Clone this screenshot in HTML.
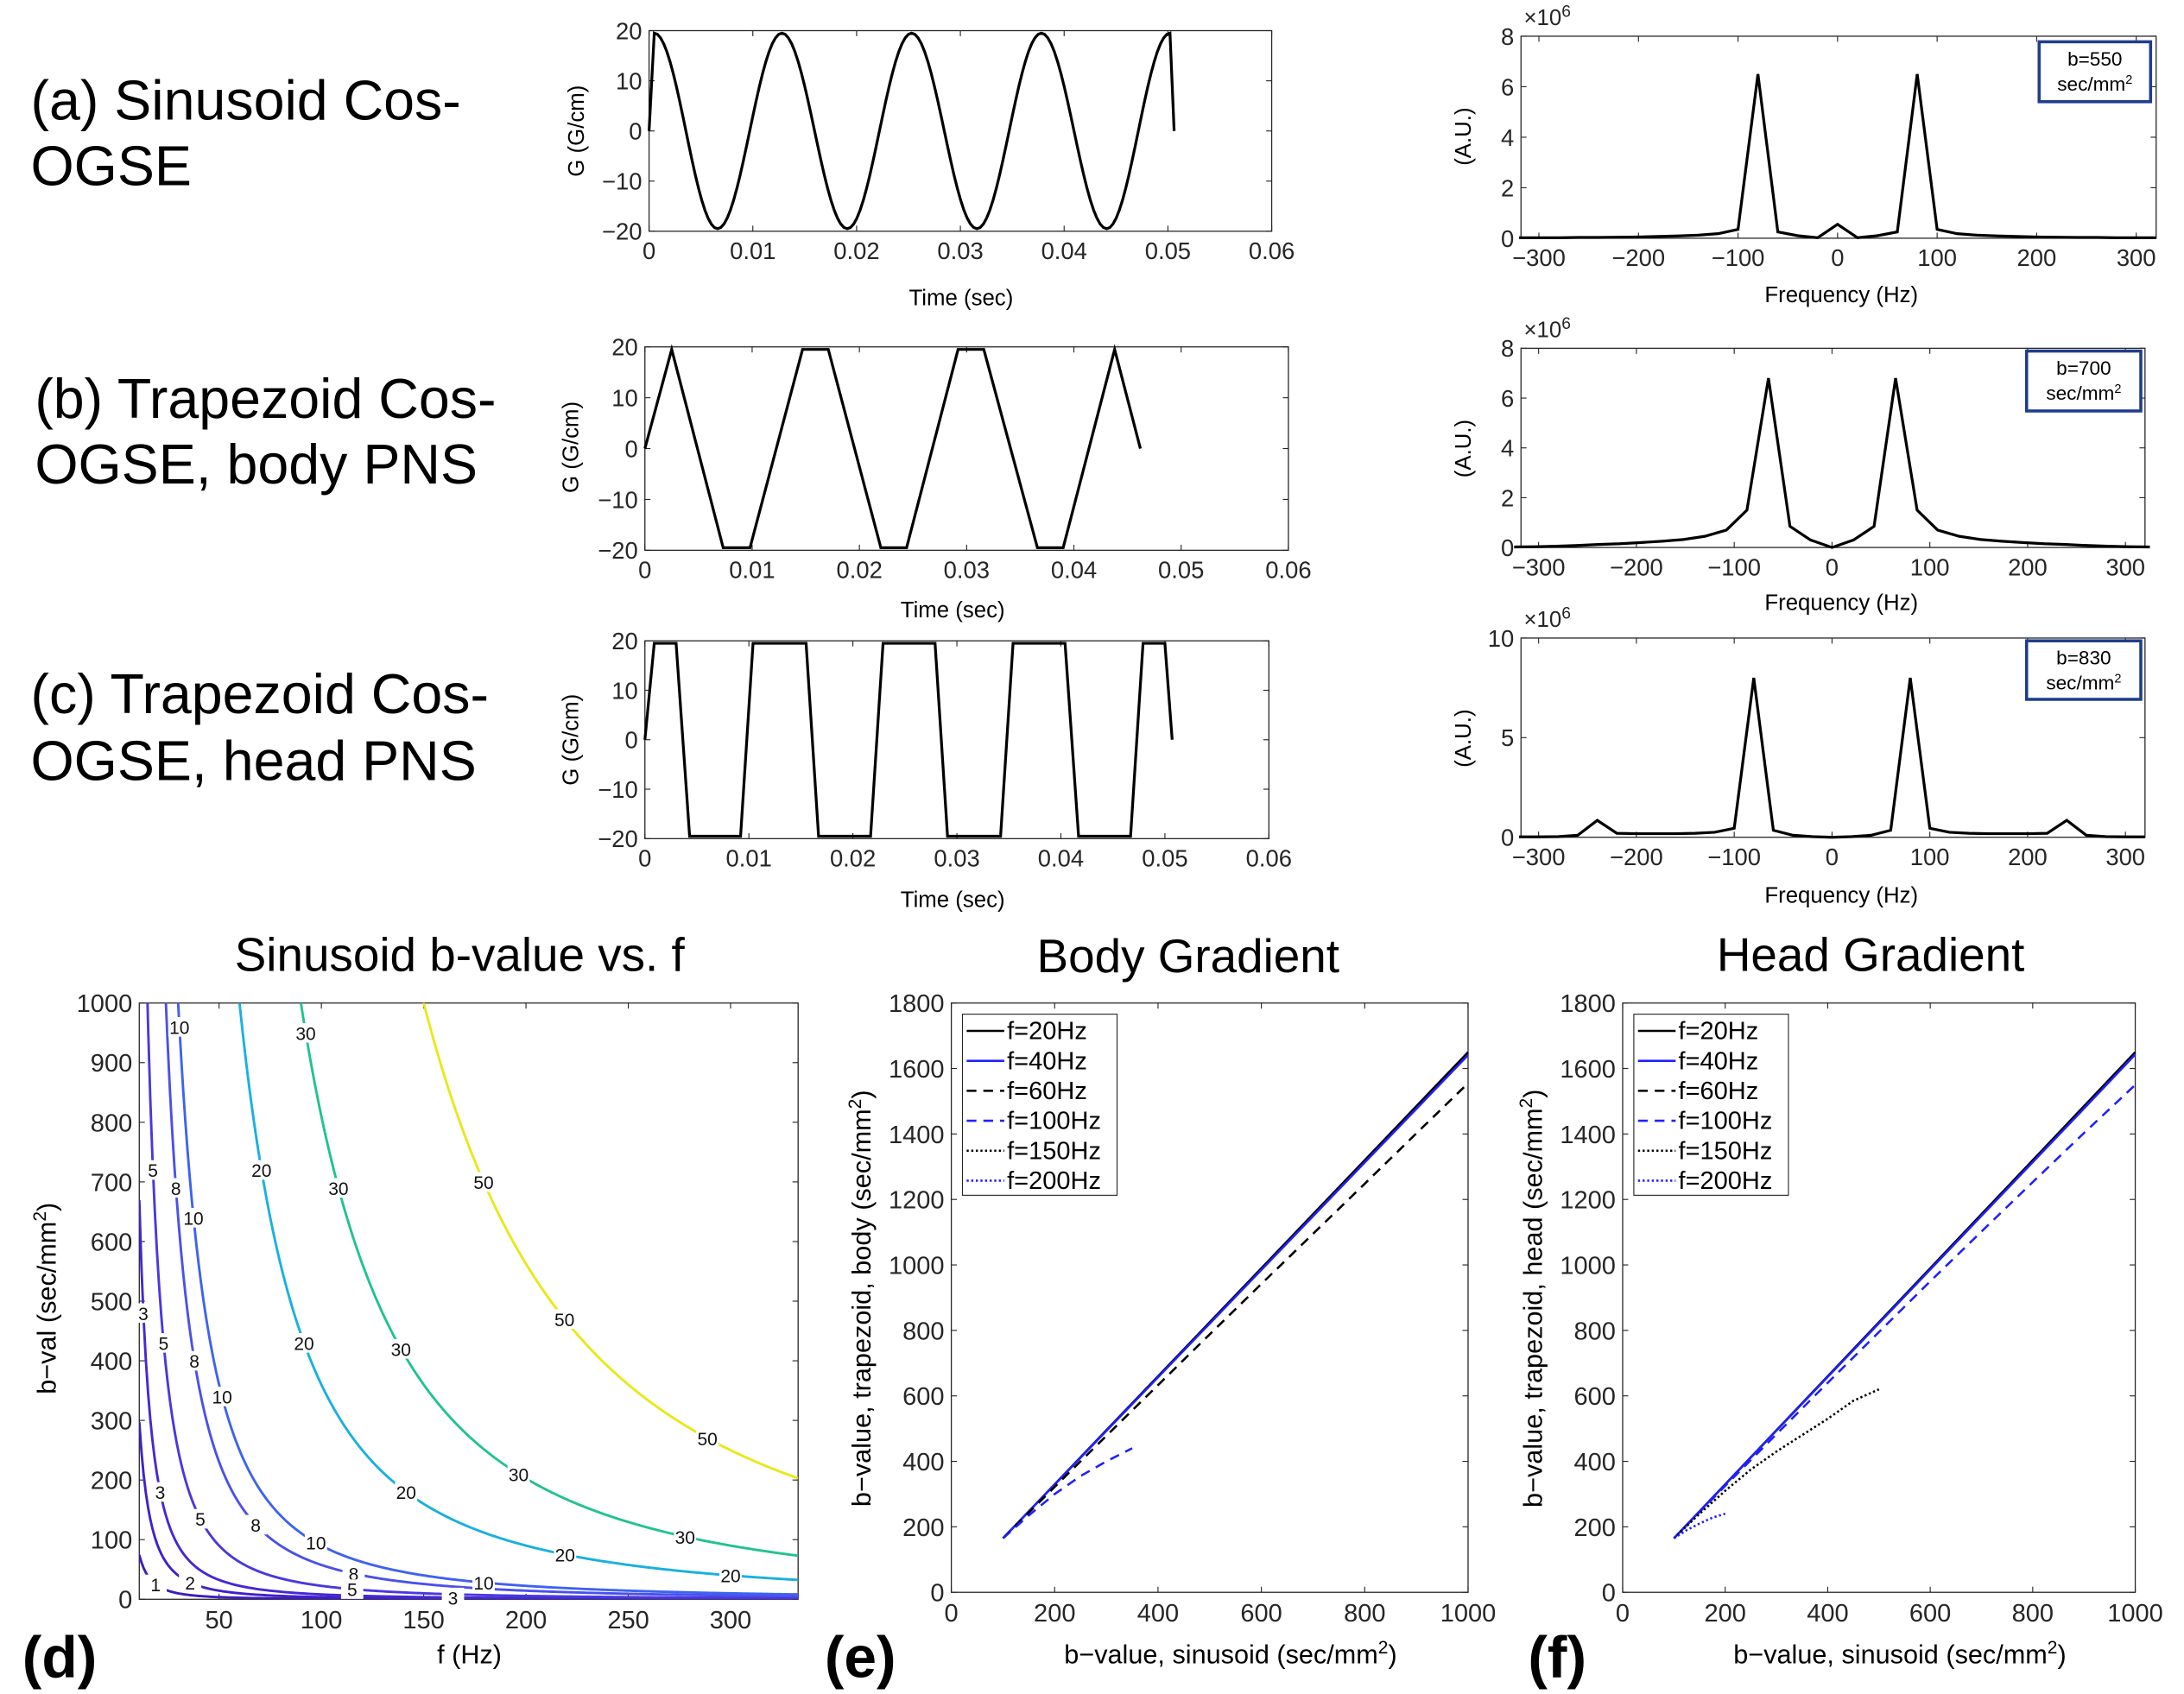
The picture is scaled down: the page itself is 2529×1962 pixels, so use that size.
<!DOCTYPE html>
<html><head><meta charset="utf-8">
<style>
html,body{margin:0;padding:0;background:#fff;}
svg{display:block;font-family:"Liberation Sans",sans-serif;}
</style></head>
<body>
<svg id="fig" width="2529" height="1962" viewBox="0 0 1568 1216" preserveAspectRatio="none" xmlns="http://www.w3.org/2000/svg">
<rect width="1568" height="1216" fill="#fff"/>
<g font-size="40" fill="#000">
<text x="22" y="86">(a) Sinusoid Cos-</text>
<text x="22" y="133">OGSE</text>
<text x="25" y="300">(b) Trapezoid Cos-</text>
<text x="25" y="347">OGSE, body PNS</text>
<text x="22" y="512">(c) Trapezoid Cos-</text>
<text x="22" y="560">OGSE, head PNS</text>
</g>
<g font-size="42" font-weight="bold">
<text x="16" y="1204">(d)</text>
<text x="592" y="1204">(e)</text>
<text x="1097" y="1204">(f)</text>
</g>
<g font-size="34" text-anchor="middle">
<text x="330" y="697">Sinusoid b-value vs. f</text>
<text x="853" y="698">Body Gradient</text>
<text x="1343" y="697">Head Gradient</text>
</g>
<g id="plots"></g>
</svg>
<script>
// ---------- data ----------
const sinExtT = [0.0005,0.0066,0.0128,0.0191,0.0253,0.0316,0.0378,0.0441,0.0502];
const sinExtG = [19.5,-19.5,19.5,-19.5,19.5,-19.5,19.5,-19.5,19.5];
const sinEnd = [0.0506, 0];
const trapBT = [0,0.0025,0.0073,0.0098,0.0147,0.0171,0.0220,0.0244,0.0292,0.0316,0.0366,0.0390,0.0438,0.0462];
const trapBG = [0,19.5,-19.5,-19.5,19.5,19.5,-19.5,-19.5,19.5,19.5,-19.5,-19.5,19.5,0];
const trapCT = [0,0.0009,0.0030,0.0043,0.0092,0.0104,0.0155,0.0167,0.0217,0.0229,0.0279,0.0291,0.0342,0.0354,0.0404,0.0417,0.0467,0.0479,0.0500,0.0507];
const trapCG = [0,19.5,19.5,-19.5,-19.5,19.5,19.5,-19.5,-19.5,19.5,19.5,-19.5,-19.5,19.5,19.5,-19.5,-19.5,19.5,19.5,0];

const fftAF = [-320,-300,-280,-260,-240,-220,-200,-180,-160,-140,-120,-100,-80,-60,-40,-20,0,20,40,60,80,100,120,140,160,180,200,220,240,260,280,300,320];
const fftAV = [0.02,0.02,0.02,0.03,0.03,0.04,0.05,0.07,0.09,0.12,0.18,0.35,6.5,0.25,0.1,0.02,0.55,0.02,0.1,0.25,6.5,0.35,0.18,0.12,0.09,0.07,0.05,0.04,0.03,0.03,0.02,0.02,0.02];
const fftBF = [-325,-304,-282,-260,-239,-217,-195,-174,-152,-130,-108,-87,-65,-43,-22,0,22,43,65,87,108,130,152,174,195,217,239,260,282,304,325];
const fftBV = [0.02,0.03,0.05,0.08,0.12,0.15,0.2,0.25,0.32,0.45,0.7,1.5,6.8,0.85,0.3,0,0.3,0.85,6.8,1.5,0.7,0.45,0.32,0.25,0.2,0.15,0.12,0.08,0.05,0.03,0.02];
const fftCF = [-320,-300,-280,-260,-240,-220,-200,-180,-160,-140,-120,-100,-80,-60,-40,-20,0,20,40,60,80,100,120,140,160,180,200,220,240,260,280,300,320];
const fftCV = [0.02,0.02,0.03,0.1,0.85,0.2,0.18,0.18,0.18,0.2,0.25,0.45,8.0,0.35,0.1,0.03,0,0.03,0.1,0.35,8.0,0.45,0.25,0.2,0.18,0.18,0.18,0.2,0.85,0.1,0.03,0.02,0.02];

const contourLevels = [1,2,3,5,8,10,20,30,50];
const contourConst = 9000; // b * f^2 / level^2
const contourLabelLevel = [50,50,50,30,30,30,30,30,20,20,20,20,20,10,10,10,10,10,8,8,8,8,5,5,5,5,3,3,3,2,2,1];
const contourLabelB = [700,470,270,950,690,420,210,105,720,430,180,75,40,960,640,340,95,28,690,400,125,43,720,430,135,17,480,180,3,300,28,25];

const gradX = [100,200,300,400,500,600,700,800,900,1000];
const bodyF20 = [165,330,495,660,825,990,1155,1320,1485,1650];
const bodyF40 = [165,329,493,657,821,985,1149,1313,1477,1641];
const bodyF60 = [165,322,478,633,788,942,1095,1248,1402,1555];
const bodyF100X = [100,150,200,250,300,350];
const bodyF100 = [165,235,300,355,400,440];
const headF20 = [165,330,495,660,825,990,1155,1320,1485,1650];
const headF40 = [165,329,494,658,822,986,1150,1314,1478,1643];
const headF100 = [165,325,483,640,795,950,1102,1253,1403,1550];
const headF150X = [100,150,200,250,300,350,400,450,500];
const headF150 = [165,240,310,375,430,480,530,585,620];
const headF200X = [100,125,150,175,200];
const headF200 = [165,190,210,228,240];

// ---------- helpers ----------
const NS='http://www.w3.org/2000/svg';
const root=document.getElementById('plots');
function el(tag,attrs,parent){const e=document.createElementNS(NS,tag);for(const k in attrs)e.setAttribute(k,attrs[k]);(parent||root).appendChild(e);return e;}
function lin(d0,d1,r0,r1){return v=>r0+(v-d0)*(r1-r0)/(d1-d0);}
function fmt(v){return (v<0?'\u2212':'')+Math.abs(v);}

function axes(o){
  const g=el('g',{});
  
  
  const X=lin(o.xd[0],o.xd[1],o.x0,o.x1), Y=lin(o.yd[0],o.yd[1],o.y1,o.y0);
  el('rect',{x:o.x0,y:o.y0,width:o.x1-o.x0,height:o.y1-o.y0,fill:'#fff',stroke:'#262626','stroke-width':0.8},g);
  const fs=o.fs||16;
  o.xt.forEach((v,i)=>{const x=X(v);
    el('line',{x1:x,x2:x,y1:o.y1,y2:o.y1-4,stroke:'#262626','stroke-width':0.7},g);
    el('line',{x1:x,x2:x,y1:o.y0,y2:o.y0+4,stroke:'#262626','stroke-width':0.7},g);
    const t=el('text',{x:x,y:o.y1+fs+3,'font-size':fs,'text-anchor':'middle',fill:'#262626'},g);
    
    
    t.textContent=o.xl?o.xl[i]:fmt(v);});
  o.yt.forEach((v,i)=>{const y=Y(v);
    el('line',{x1:o.x0,x2:o.x0+4,y1:y,y2:y,stroke:'#262626','stroke-width':0.7},g);
    el('line',{x1:o.x1,x2:o.x1-4,y1:y,y2:y,stroke:'#262626','stroke-width':0.7},g);
    const t=el('text',{x:o.x0-5,y:y+fs*0.36,'font-size':fs,'text-anchor':'end',fill:'#262626'},g);
    
    
    t.textContent=fmt(v);});
  if(o.xlab){const t=el('text',{x:o.xlab[1],y:o.xlab[2],'font-size':o.lfs||16,'text-anchor':'middle',fill:'#000'},g);
    
    
    t.innerHTML=o.xlab[0];}
  if(o.ylab){const t=el('text',{x:0,y:0,transform:`translate(${o.ylab[1]},${o.ylab[2]}) rotate(-90)`,'font-size':o.lfs||16,'text-anchor':'middle',fill:'#000'},g);
    
    
    t.innerHTML=o.ylab[0];}
  return {g,X,Y};
}
function polyline(ax,xs,ys,style,name){
  const pts=xs.map((x,i)=>ax.X(x).toFixed(2)+','+ax.Y(ys[i]).toFixed(2)).join(' ');
  const p=el('polyline',Object.assign({points:pts,fill:'none'},style),ax.g);
  
  
  return p;
}

// ---------- waveform panels ----------
const tT=[0,0.01,0.02,0.03,0.04,0.05,0.06], gT=[-20,-10,0,10,20];
const wa=axes({name:'waveform-sinusoid',x0:466,x1:913,y0:22,y1:166,xd:[0,0.06],yd:[-20,20],xt:tT,yt:gT,fs:17,
  xlab:['Time (sec)',690,219],ylab:['G (G/cm)',419,94]});
{ const xs=[0],ys=[0];
  xs.push(sinExtT[0]);ys.push(sinExtG[0]);
  for(let i=0;i<sinExtT.length-1;i++){const a=sinExtT[i],b=sinExtT[i+1],ga=sinExtG[i],gb=sinExtG[i+1];
    for(let k=1;k<=20;k++){const s=k/20;xs.push(a+(b-a)*s);ys.push(ga+(gb-ga)*(1-Math.cos(Math.PI*s))/2);}}
  xs.push(sinEnd[0]);ys.push(sinEnd[1]);
  polyline(wa,xs,ys,{stroke:'#000','stroke-width':2},'sinusoid-waveform-line');}
const wb=axes({name:'waveform-trapezoid-body',x0:463,x1:925,y0:249,y1:395,xd:[0,0.06],yd:[-20,20],xt:tT,yt:gT,fs:17,
  xlab:['Time (sec)',684,443],ylab:['G (G/cm)',415,321]});
polyline(wb,trapBT,trapBG,{stroke:'#000','stroke-width':2},'trapezoid-body-waveform-line');
const wc=axes({name:'waveform-trapezoid-head',x0:463,x1:911,y0:460,y1:602,xd:[0,0.06],yd:[-20,20],xt:tT,yt:gT,fs:17,
  xlab:['Time (sec)',684,651],ylab:['G (G/cm)',415,531]});
polyline(wc,trapCT,trapCG,{stroke:'#000','stroke-width':2},'trapezoid-head-waveform-line');

// ---------- spectrum panels ----------
const fT=[-300,-200,-100,0,100,200,300];
function spec(name,box,yd,yt,data,xlabY,ylY,b){
  const ax=axes({name,x0:box[0],x1:box[1],y0:box[2],y1:box[3],xd:[-318,320],yd,xt:fT,yt,fs:17,
    xlab:['Frequency (Hz)',1322,xlabY],ylab:['(A.U.)',1056,ylY]});
  const m=el('text',{x:box[0]+2,y:box[2]-8,'font-size':16,fill:'#262626'},ax.g);
  
  
  m.innerHTML='\u00d710<tspan dy="-6" font-size="12">6</tspan>';
  polyline(ax,data[0],data[1],{stroke:'#000','stroke-width':2},name+'-line');
  const lg=el('g',{},ax.g);
  
  
  el('rect',{x:b[0],y:b[1],width:b[2],height:b[3],fill:'#fff',stroke:'#1f3d8c','stroke-width':2.2},lg);
  const t1=el('text',{x:b[0]+b[2]/2,y:b[1]+17,'font-size':14,'text-anchor':'middle'},lg);t1.textContent=b[4];
  const t2=el('text',{x:b[0]+b[2]/2,y:b[1]+35,'font-size':14,'text-anchor':'middle'},lg);
  t2.innerHTML='sec/mm<tspan dy="-5" font-size="9">2</tspan>';
}
spec('spectrum-sinusoid',[1092,1548,26,171],[0,8],[0,2,4,6,8],[fftAF,fftAV],217,98,[1464,30,80,43,'b=550']);
spec('spectrum-trapezoid-body',[1092,1540,250,393],[0,8],[0,2,4,6,8],[fftBF,fftBV],438,322,[1455,252,82,43,'b=700']);
spec('spectrum-trapezoid-head',[1092,1540,458,601],[0,10],[0,5,10],[fftCF,fftCV],648,530,[1455,460,82,42,'b=830']);

// ---------- contour panel ----------
const cd=axes({name:'contour-plot',x0:100,x1:573,y0:720,y1:1148,xd:[11,333],yd:[0,1000],
  xt:[50,100,150,200,250,300],yt:[0,100,200,300,400,500,600,700,800,900,1000],fs:18,lfs:19,
  xlab:['f (Hz)',337,1194],ylab:['b\u2212val (sec/mm<tspan dy="-7" font-size="13">2</tspan><tspan dy="7">)</tspan>',40,932]});
const levelColors={1:'#3d1bc0',2:'#4020cc',3:'#4328d6',5:'#4838e0',8:'#4a50ec',10:'#3e62f2',20:'#18b0e0',30:'#20c48a',50:'#e8e81a'};
const clip=el('clipPath',{id:'cclip'},cd.g);el('rect',{x:100,y:720,width:473,height:428},clip);
contourLevels.forEach(L=>{
  const xs=[],ys=[];
  for(let i=0;i<=300;i++){const f=11+(333-11)*i/300;const b=contourConst*L*L/(f*f);xs.push(f);ys.push(Math.min(b,1200));}
  polyline(cd,xs,ys,{stroke:levelColors[L],'stroke-width':1.8,'clip-path':'url(#cclip)'},'contour-level-'+L);
});
contourLabelLevel.forEach((L,i)=>{
  const b=contourLabelB[i];const f=Math.sqrt(contourConst*L*L/b);
  if(f<11||f>333)return;
  const x=cd.X(f),y=cd.Y(b);
  const g=el('g',{},cd.g);
  
  
  el('rect',{x:x-8,y:y-7,width:16,height:14,fill:'#fff'},g);
  const t=el('text',{x:x,y:y+5,'font-size':13,'text-anchor':'middle',fill:'#111'},g);t.textContent=L;
});

// ---------- gradient panels ----------
function gradPanel(name,x0,x1,ylab,series,legX){
  const ax=axes({name,x0,x1,y0:720,y1:1143,xd:[0,1000],yd:[0,1800],xt:[0,200,400,600,800,1000],
    yt:[0,200,400,600,800,1000,1200,1400,1600,1800],fs:18,lfs:19,
    xlab:['b\u2212value, sinusoid (sec/mm<tspan dy="-7" font-size="13">2</tspan><tspan dy="7">)</tspan>',(x0+x1)/2+15,1194],
    ylab:[ylab,x0-58,932]});
  series.forEach(s=>{if(s.x)polyline(ax,s.x,s.y,s.style,s.name);});
  const lg=el('g',{},ax.g);
  
  
  el('rect',{x:legX,y:728,width:111,height:130,fill:'#fff',stroke:'#262626','stroke-width':0.7},lg);
  series.forEach((s,i)=>{const y=740+i*21.5;
    const e=el('g',{},lg);
    
    
    el('line',Object.assign({x1:legX+3,x2:legX+30,y1:y,y2:y},s.style),e);
    const t=el('text',{x:legX+32,y:y+6,'font-size':18},e);t.textContent=s.label;});
}
const sty={
  s20:{stroke:'#000','stroke-width':1.6},
  s40:{stroke:'#2020ff','stroke-width':1.6},
  s60:{stroke:'#000','stroke-width':1.6,'stroke-dasharray':'7,5'},
  s100:{stroke:'#2020ff','stroke-width':1.6,'stroke-dasharray':'7,5'},
  s150:{stroke:'#000','stroke-width':1.6,'stroke-dasharray':'1.5,1.8'},
  s200:{stroke:'#2020ff','stroke-width':1.6,'stroke-dasharray':'1.5,1.8'}};
gradPanel('body-gradient-plot',683,1054,'b\u2212value, trapezoid, body (sec/mm<tspan dy="-7" font-size="13">2</tspan><tspan dy="7">)</tspan>',[
  {label:'f=20Hz',x:gradX,y:bodyF20,style:sty.s20,name:'line-f20'},
  {label:'f=40Hz',x:gradX,y:bodyF40,style:sty.s40,name:'line-f40'},
  {label:'f=60Hz',x:gradX,y:bodyF60,style:sty.s60,name:'line-f60'},
  {label:'f=100Hz',x:bodyF100X,y:bodyF100,style:sty.s100,name:'line-f100'},
  {label:'f=150Hz',style:sty.s150},
  {label:'f=200Hz',style:sty.s200}],691);
gradPanel('head-gradient-plot',1165,1533,'b\u2212value, trapezoid, head (sec/mm<tspan dy="-7" font-size="13">2</tspan><tspan dy="7">)</tspan>',[
  {label:'f=20Hz',x:gradX,y:headF20,style:sty.s20,name:'line-f20'},
  {label:'f=40Hz',x:gradX,y:headF40,style:sty.s40,name:'line-f40'},
  {label:'f=60Hz',style:sty.s60},
  {label:'f=100Hz',x:gradX,y:headF100,style:sty.s100,name:'line-f100'},
  {label:'f=150Hz',x:headF150X,y:headF150,style:sty.s150,name:'line-f150'},
  {label:'f=200Hz',x:headF200X,y:headF200,style:sty.s200,name:'line-f200'}],1173);
</script>
</body></html>
